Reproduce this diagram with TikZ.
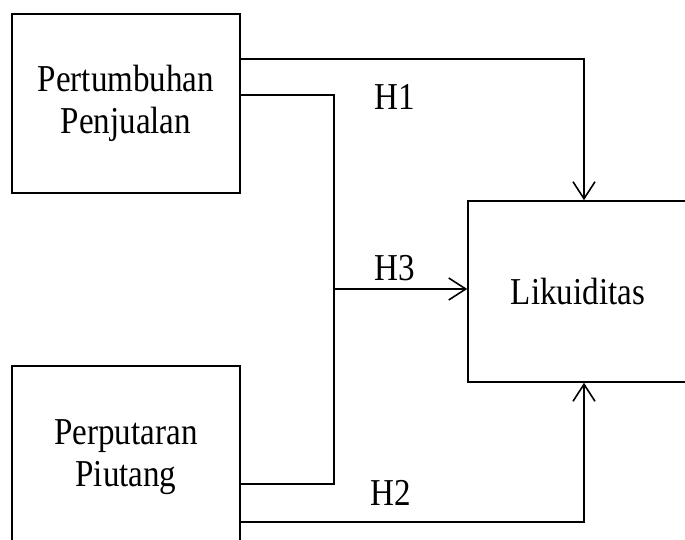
\documentclass[tikz,border=0pt]{standalone}
\usepackage{fontspec}
\setmainfont[FakeStretch=0.87]{Liberation Serif}
\usetikzlibrary{arrows.meta}

\begin{document}
\begin{tikzpicture}[x=1pt, y=-1pt,
	var/.style={draw, line width=1.6pt, minimum width=228pt, align=center, inner sep=0pt, font=\fontsize{38}{42}\selectfont},
	link/.style={line width=1.6pt},
	arr/.style={link, -{Straight Barb[length=17pt, width=22pt]}},
	hyp/.style={font=\fontsize{38}{42}\selectfont}]
	\useasboundingbox (0,0) rectangle (685,540);
	\node[var, minimum height=179pt] (pp) at (126,103.5) {Pertumbuhan\\Penjualan};
	\node[var, minimum height=182pt] (pl) at (126,457) {Perputaran\\Piutang};
	\node[var, minimum width=220pt, minimum height=181pt] (lk) at (578,291.5) {Likuiditas};
	\coordinate (jn) at (334,289);
	\draw[arr] ([yshift=44.5pt]pp.east) -| ([xshift=6pt]lk.north);
	\draw[link] ([yshift=8.5pt]pp.east) -| (jn) |- ([yshift=-27pt]pl.east);
	\draw[arr] (jn) -- (lk.west |- jn);
	\draw[arr] ([yshift=-65pt]pl.east) -| ([xshift=6pt]lk.south);
	\node[hyp] (h1) at (395,97) {H1};
	\node[hyp] (h3) at (395,268) {H3};
	\node[hyp] (h2) at (391,493) {H2};
\end{tikzpicture}
\end{document}
